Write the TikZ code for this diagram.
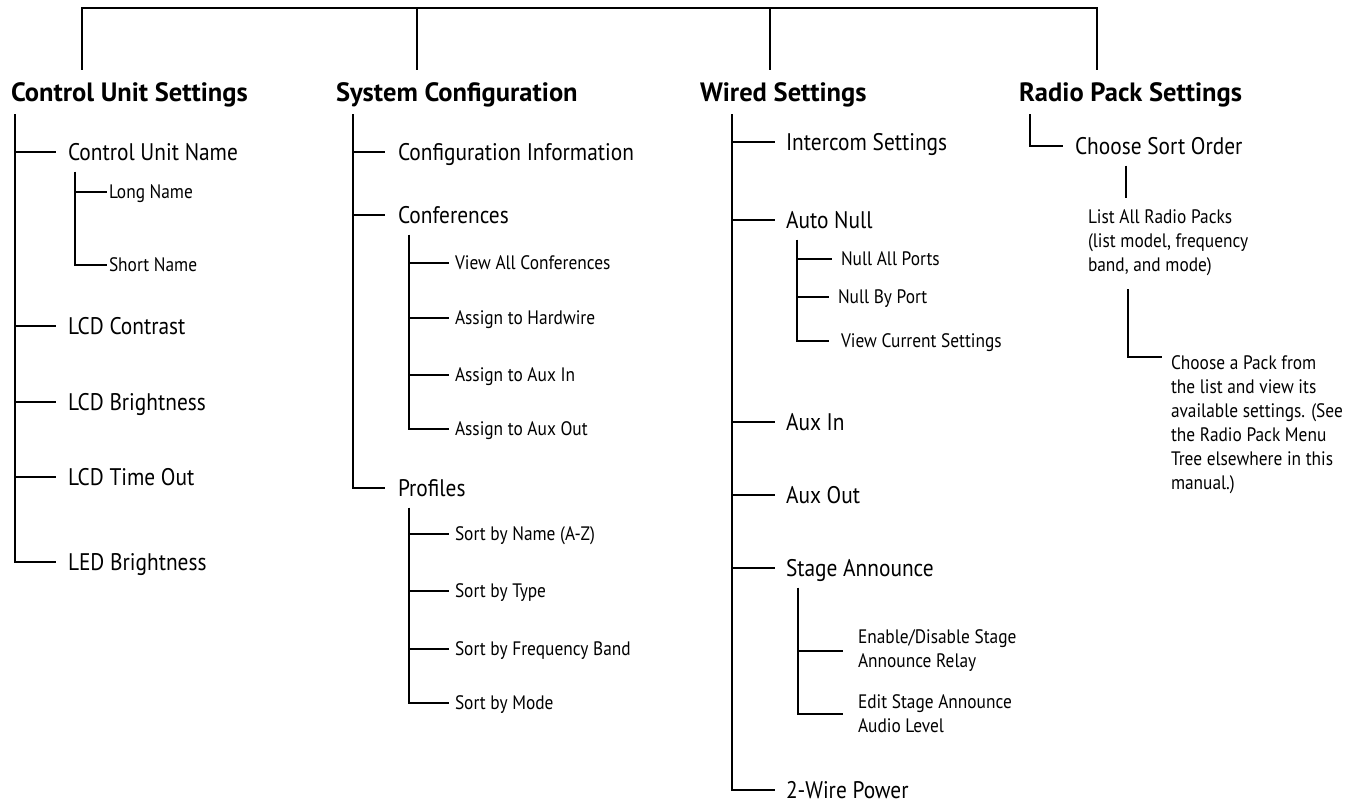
\documentclass[tikz,border=0pt]{standalone}
\usepackage{fontspec}
\setmainfont{PT Sans}[FakeStretch=0.89]
\newfontfamily\headfont{PT Sans}[FakeStretch=1.0]
\usetikzlibrary{positioning}
\begin{document}
\begin{tikzpicture}[x=1pt,y=-1pt,line width=2pt,
  head/.style={font=\headfont\bfseries\fontsize{26.5}{30}\selectfont,inner xsep=0pt,inner ysep=12pt,text height=18.5pt,text depth=0pt,anchor=base west},
  item/.style={font=\fontsize{24}{28}\selectfont,inner xsep=11pt,inner ysep=10pt,text height=17pt,text depth=0pt,anchor=west},
  leaf/.style={font=\fontsize{19.5}{24}\selectfont,inner xsep=5pt,inner ysep=0pt,text height=13pt,text depth=0pt,anchor=west},
  note/.style={font=\fontsize{19.5}{24}\selectfont,inner xsep=0pt,inner ysep=0pt,align=left}]
  \useasboundingbox (0,0) rectangle (1350,804);
  \node[head] (cus) at (10,101) {Control Unit Settings};
  \node[head] (sc) at (335,101) {System Configuration};
  \node[head] (ws) at (699,101) {Wired Settings};
  \node[head] (rps) at (1018,101) {Radio Pack Settings};
  \coordinate (t1) at (82,8); \coordinate (t2) at (417,8);
  \coordinate (t3) at (770,8); \coordinate (t4) at (1097,8);
  \draw (t1 |- cus.north) -- (t1) -- (t4) -- (t4 |- rps.north);
  \draw (t2) -- (t2 |- sc.north); \draw (t3) -- (t3 |- ws.north);

  \node[item] (cun) at (56,152) {Control Unit Name};
  \node[leaf,inner xsep=1pt] (ln) at (107,192) {Long Name};
  \node[leaf,inner xsep=1pt] (sn) at (107,265) {Short Name};
  \node[item] (lcdc) at (56,326) {LCD Contrast};
  \node[item] (lcdb) at (56,402) {LCD Brightness};
  \node[item] (lcdt) at (56,477) {LCD Time Out};
  \node[item] (led) at (56,562) {LED Brightness};
  \coordinate (s1) at ([xshift=5pt]cus.south west);
  \draw (s1) |- (led.west);
  \foreach \n in {cun,lcdc,lcdb,lcdt} \draw (s1 |- \n.west) -- (\n.west);
  \coordinate (s11) at ([xshift=19pt]cun.south west);
  \draw (s11) |- (sn.west); \draw (s11 |- ln.west) -- (ln.west);

  \node[item,inner xsep=12pt] (ci) at (385,152) {Configuration Information};
  \node[item,inner xsep=12pt] (conf) at (385,215) {Conferences};
  \node[item,inner xsep=12pt] (prof) at (385,488) {Profiles};
  \node[leaf] (vac) at (449,263) {View All Conferences};
  \node[leaf] (ath) at (449,318) {Assign to Hardwire};
  \node[leaf] (aai) at (449,375) {Assign to Aux In};
  \node[leaf] (aao) at (449,429) {Assign to Aux Out};
  \node[leaf] (sbn) at (449,534) {Sort by Name (A-Z)};
  \node[leaf] (sbt) at (449,591) {Sort by Type};
  \node[leaf] (sbf) at (449,649) {Sort by Frequency Band};
  \node[leaf] (sbm) at (449,703) {Sort by Mode};
  \coordinate (s2) at ([xshift=18pt]sc.south west);
  \draw (s2) |- (prof.west); \foreach \n in {ci,conf} \draw (s2 |- \n.west) -- (\n.west);
  \coordinate (s21) at ([xshift=24pt]conf.south west);
  \draw (s21) |- (aao.west); \foreach \n in {vac,ath,aai} \draw (s21 |- \n.west) -- (\n.west);
  \coordinate (s22) at ([xshift=24pt]prof.south west);
  \draw (s22) |- (sbm.west); \foreach \n in {sbn,sbt,sbf} \draw (s22 |- \n.west) -- (\n.west);

  \node[item,inner xsep=10pt] (is) at (775,142) {Intercom Settings};
  \node[item,inner xsep=10pt] (an) at (775,220) {Auto Null};
  \node[item,inner xsep=10pt] (ai) at (775,422) {Aux In};
  \node[item,inner xsep=10pt] (ao) at (775,495) {Aux Out};
  \node[item,inner xsep=10pt] (sa) at (775,568) {Stage Announce};
  \node[item,inner xsep=10pt] (twp) at (775,790) {2-Wire Power};
  \node[leaf,inner xsep=8pt] (nap) at (832,259) {Null All Ports};
  \node[leaf,inner xsep=8pt] (nbp) at (829,297) {Null By Port};
  \node[leaf,inner xsep=11pt] (vcs) at (829,341) {View Current Settings};
  \node[note,anchor=west,inner xsep=14pt] (eds) at (843,651) {Enable/Disable Stage\\Announce Relay};
  \node[note,anchor=west,inner xsep=14pt] (esa) at (843,714) {Edit Stage Announce\\Audio Level};
  \coordinate (s3) at ([xshift=33pt]ws.south west);
  \draw (s3) |- (twp.west); \foreach \n in {is,an,ai,ao,sa} \draw (s3 |- \n.west) -- (\n.west);
  \coordinate (s31) at ([xshift=22pt]an.south west);
  \draw (s31) |- (vcs.west); \foreach \n in {nap,nbp} \draw (s31 |- \n.west) -- (\n.west);
  \coordinate (s32) at ([xshift=23pt]sa.south west);
  \draw (s32) |- (esa.west); \draw (s32 |- eds.west) -- (eds.west);

  \node[item] (cso) at (1063,146) {Choose Sort Order};
  \node[note,anchor=north west] (lar) at (1087,209) {List All Radio Packs\\(list model, frequency\\band, and mode)};
  \node[note,anchor=north west,inner xsep=8pt] (cap) at (1162,355) {Choose a Pack from\\the list and view its\\available settings. (See\\the Radio Pack Menu\\Tree elsewhere in this\\manual.)};
  \coordinate (s4) at ([xshift=12pt]rps.south west);
  \draw (s4) |- (cso.west);
  \coordinate (r1) at ([xshift=63pt]cso.south west);
  \draw[shorten >=11pt] (r1) -- (r1 |- lar.north);
  \coordinate (r2) at ([xshift=41pt,yshift=-12pt]lar.south west);
  \draw (r2) |- ([yshift=-2pt]cap.north west);
\end{tikzpicture}
\end{document}
